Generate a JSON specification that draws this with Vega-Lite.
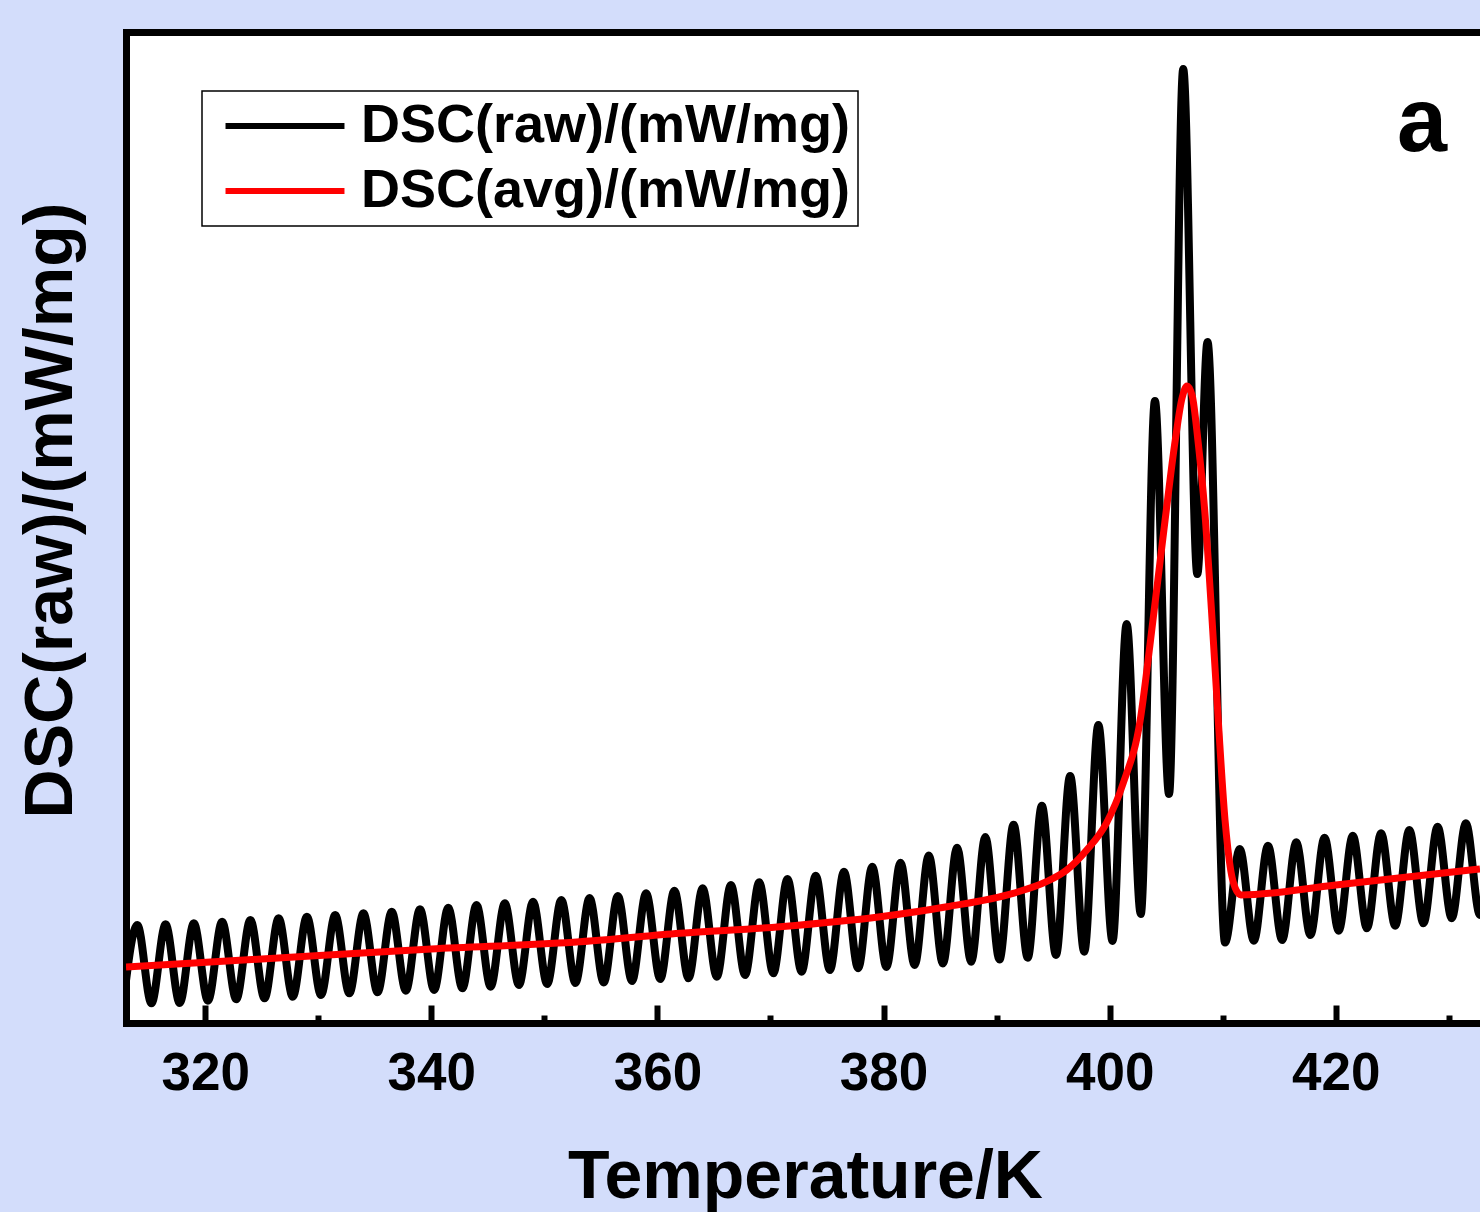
{
  "$schema": "https://vega.github.io/schema/vega-lite/v6.json",
  "width": 1354,
  "height": 991,
  "autosize": {"type": "none"},
  "padding": {"left": 126, "top": 32, "right": 0, "bottom": 189},
  "background": "#d3ddfb",
  "config": {"view": {"fill": "white", "stroke": null}, "font": "Liberation Sans"},
  "datasets": {
    "raw": [
      {"T": 312.75, "v": 0.095}, {"T": 314.0, "v": 0.49}, {"T": 315.25, "v": 0.0985}, {"T": 316.5, "v": 0.4935},
      {"T": 317.75, "v": 0.1}, {"T": 319.0, "v": 0.4985}, {"T": 320.25, "v": 0.1115}, {"T": 321.5, "v": 0.5065},
      {"T": 322.75, "v": 0.1185}, {"T": 324.0, "v": 0.515}, {"T": 325.25, "v": 0.1235}, {"T": 326.5, "v": 0.5235},
      {"T": 327.75, "v": 0.1315}, {"T": 329.0, "v": 0.5315}, {"T": 330.25, "v": 0.14}, {"T": 331.5, "v": 0.54},
      {"T": 332.75, "v": 0.1485}, {"T": 334.0, "v": 0.5485}, {"T": 335.25, "v": 0.1535}, {"T": 336.5, "v": 0.5565},
      {"T": 337.75, "v": 0.1615}, {"T": 339.0, "v": 0.5685}, {"T": 340.25, "v": 0.165}, {"T": 341.5, "v": 0.5765},
      {"T": 342.75, "v": 0.1735}, {"T": 344.0, "v": 0.59}, {"T": 345.25, "v": 0.1815}, {"T": 346.5, "v": 0.5985},
      {"T": 347.75, "v": 0.19}, {"T": 349.0, "v": 0.6065}, {"T": 350.25, "v": 0.195}, {"T": 351.5, "v": 0.615},
      {"T": 352.75, "v": 0.2}, {"T": 354.0, "v": 0.625}, {"T": 355.25, "v": 0.2025}, {"T": 356.5, "v": 0.635},
      {"T": 357.75, "v": 0.21}, {"T": 359.0, "v": 0.6485}, {"T": 360.25, "v": 0.22}, {"T": 361.5, "v": 0.6615},
      {"T": 362.75, "v": 0.2235}, {"T": 364.0, "v": 0.6735}, {"T": 365.25, "v": 0.2315}, {"T": 366.5, "v": 0.69},
      {"T": 367.75, "v": 0.24}, {"T": 369.0, "v": 0.7035}, {"T": 370.25, "v": 0.2485}, {"T": 371.5, "v": 0.72},
      {"T": 372.75, "v": 0.2565}, {"T": 374.0, "v": 0.7365}, {"T": 375.25, "v": 0.265}, {"T": 376.5, "v": 0.7565},
      {"T": 377.75, "v": 0.2735}, {"T": 379.0, "v": 0.7815}, {"T": 380.25, "v": 0.28}, {"T": 381.5, "v": 0.8015},
      {"T": 382.75, "v": 0.29}, {"T": 384.0, "v": 0.8375}, {"T": 385.25, "v": 0.2975}, {"T": 386.5, "v": 0.8765},
      {"T": 387.75, "v": 0.3065}, {"T": 389.0, "v": 0.93}, {"T": 390.25, "v": 0.3175}, {"T": 391.5, "v": 0.9915},
      {"T": 392.75, "v": 0.3265}, {"T": 394.0, "v": 1.086}, {"T": 395.25, "v": 0.34}, {"T": 396.5, "v": 1.235},
      {"T": 397.75, "v": 0.3565}, {"T": 399.0, "v": 1.49}, {"T": 400.25, "v": 0.41}, {"T": 401.5, "v": 1.995},
      {"T": 402.75, "v": 0.545}, {"T": 404.0, "v": 3.11}, {"T": 405.25, "v": 1.145}, {"T": 406.5, "v": 4.77},
      {"T": 407.75, "v": 2.245}, {"T": 408.65, "v": 3.405}, {"T": 410.2, "v": 0.4025}, {"T": 411.5, "v": 0.87},
      {"T": 412.75, "v": 0.4115}, {"T": 414.0, "v": 0.8865}, {"T": 415.25, "v": 0.415}, {"T": 416.5, "v": 0.9035},
      {"T": 417.75, "v": 0.44}, {"T": 419.0, "v": 0.9265}, {"T": 420.25, "v": 0.4615}, {"T": 421.5, "v": 0.9365},
      {"T": 422.75, "v": 0.4735}, {"T": 424.0, "v": 0.9485}, {"T": 425.25, "v": 0.4865}, {"T": 426.5, "v": 0.965},
      {"T": 427.75, "v": 0.4985}, {"T": 429.0, "v": 0.9815}, {"T": 430.25, "v": 0.5235}, {"T": 431.5, "v": 0.9985},
      {"T": 432.75, "v": 0.54}, {"T": 434.0, "v": 1.0}
    ],
    "avg": [
      {"T": 313.0, "v": 0.28}, {"T": 325.0, "v": 0.32}, {"T": 340.0, "v": 0.37}, {"T": 353.15, "v": 0.4065},
      {"T": 362.0, "v": 0.4485}, {"T": 370.84, "v": 0.4815}, {"T": 379.7, "v": 0.5315}, {"T": 385.6, "v": 0.5815},
      {"T": 391.45, "v": 0.6485}, {"T": 394.4, "v": 0.7065}, {"T": 396.2, "v": 0.765}, {"T": 397.97, "v": 0.865},
      {"T": 399.7, "v": 0.9985}, {"T": 401.2, "v": 1.2}, {"T": 402.7, "v": 1.515}, {"T": 403.56, "v": 1.89},
      {"T": 404.9, "v": 2.515}, {"T": 405.8, "v": 2.915}, {"T": 406.4, "v": 3.125}, {"T": 406.84, "v": 3.185},
      {"T": 407.3, "v": 3.135}, {"T": 407.8, "v": 2.915}, {"T": 408.4, "v": 2.565}, {"T": 409.0, "v": 2.065},
      {"T": 409.6, "v": 1.515}, {"T": 410.2, "v": 1.015}, {"T": 410.7, "v": 0.765}, {"T": 411.1, "v": 0.675},
      {"T": 411.6, "v": 0.64}, {"T": 420.0, "v": 0.69}, {"T": 432.75, "v": 0.77}
    ],
    "panel": [{"T": 427.62, "v": 4.36, "label": "a"}]
  },
  "layer": [
    {
      "data": {"name": "raw"},
      "mark": {"type": "line", "interpolate": "monotone", "strokeWidth": 8, "clip": true},
      "encoding": {
        "x": {
          "field": "T", "type": "quantitative",
          "scale": {"domain": [313, 432.75], "nice": false, "zero": false},
          "axis": {
            "orient": "bottom", "values": [320, 340, 360, 380, 400, 420], "grid": false,
            "tickSize": -18, "tickWidth": 6, "tickColor": "black",
            "domainColor": "black", "domainWidth": 7, "domainCap": "square",
            "labelFontSize": 53, "labelFontWeight": "bold", "labelColor": "black",
            "labelBaseline": "alphabetic", "labelPadding": 84, "labelFlush": false, "labelOverlap": false,
            "title": "Temperature/K", "titleFontSize": 68, "titleFontWeight": "bold", "titleColor": "black",
            "titleX": 679, "titleY": 174, "titleAlign": "center", "titleBaseline": "alphabetic"
          }
        },
        "y": {
          "field": "v", "type": "quantitative",
          "scale": {"domain": [0, 4.955], "nice": false, "zero": false},
          "axis": {
            "orient": "left", "ticks": false, "labels": false, "grid": false,
            "domainColor": "black", "domainWidth": 7, "domainCap": "square",
            "title": "DSC(raw)/(mW/mg)", "titleFontSize": 68, "titleFontWeight": "bold", "titleColor": "black",
            "titleAngle": -90, "titleX": -55, "titleY": 478, "titleAlign": "center", "titleBaseline": "alphabetic"
          }
        },
        "color": {
          "datum": "DSC(raw)/(mW/mg)", "type": "nominal",
          "scale": {"domain": ["DSC(raw)/(mW/mg)", "DSC(avg)/(mW/mg)"], "range": ["#000000", "#ff0000"]},
          "legend": {
            "orient": "none", "legendX": 76, "legendY": 59, "title": null,
            "fillColor": "white", "strokeColor": "black", "padding": 8,
            "symbolType": "M-5,0H5", "symbolSize": 566, "symbolStrokeWidth": 6, "symbolOffset": 48,
            "labelFontSize": 54, "labelFontWeight": "bold", "labelColor": "black",
            "labelOffset": 49, "labelLimit": 1000, "rowPadding": 11,
            "encode": {"legend": {"update": {"strokeWidth": {"value": 1.5}}}}
          }
        }
      }
    },
    {
      "data": {"name": "avg"},
      "mark": {"type": "line", "interpolate": "monotone", "strokeWidth": 7, "clip": true},
      "encoding": {
        "x": {
          "field": "T", "type": "quantitative",
          "scale": {"domain": [313, 432.75], "nice": false, "zero": false},
          "axis": {
            "orient": "top", "ticks": false, "labels": false, "title": null, "grid": false,
            "domainColor": "black", "domainWidth": 7, "domainCap": "square"
          }
        },
        "y": {
          "field": "v", "type": "quantitative",
          "scale": {"domain": [0, 4.955], "nice": false, "zero": false},
          "axis": null
        },
        "color": {"datum": "DSC(avg)/(mW/mg)", "type": "nominal"}
      }
    },
    {
      "data": {"name": "panel"},
      "mark": {"type": "text", "fontSize": 90, "fontWeight": "bold", "color": "black", "align": "center", "baseline": "alphabetic"},
      "encoding": {
        "x": {
          "field": "T", "type": "quantitative",
          "scale": {"domain": [313, 432.75], "nice": false, "zero": false},
          "axis": {
            "orient": "bottom", "values": [330, 350, 370, 390, 410, 430], "grid": false,
            "tickSize": -8, "tickWidth": 6, "tickColor": "black",
            "labels": false, "domain": false, "title": null
          }
        },
        "y": {
          "field": "v", "type": "quantitative",
          "scale": {"domain": [0, 4.955], "nice": false, "zero": false},
          "axis": null
        },
        "text": {"field": "label"}
      }
    }
  ],
  "resolve": {"axis": {"x": "independent", "y": "independent"}}
}
